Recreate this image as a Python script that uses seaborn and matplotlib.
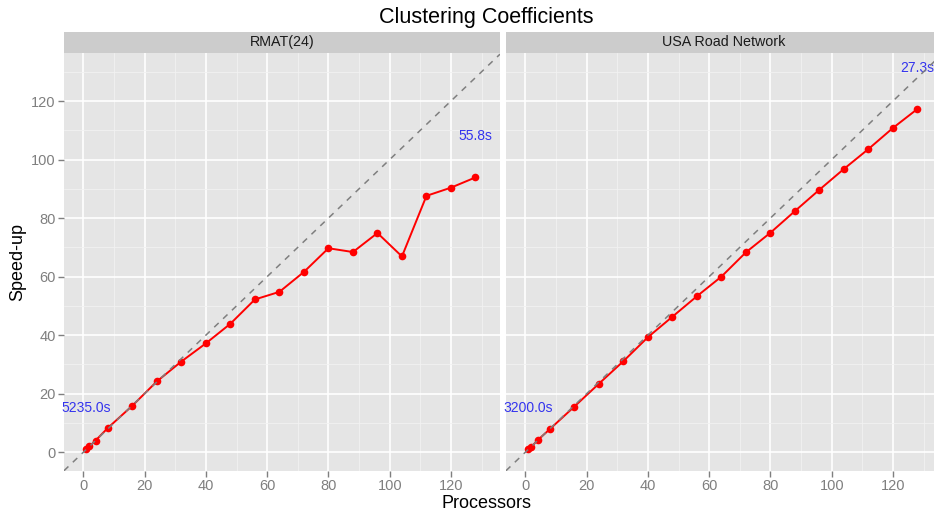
import matplotlib
matplotlib.use("Agg")
import matplotlib.pyplot as plt
import pandas as pd
import seaborn as sns
from matplotlib.ticker import MultipleLocator

# values
processors = [1, 2, 4, 8, 16, 24, 32, 40, 48, 56, 64, 72, 80, 88, 96, 104, 112, 120, 128]
rmat_speedup = [1.0, 2.0, 4.0, 8.3, 15.9, 24.2, 31.0, 37.2, 43.9, 52.2, 54.8, 61.6, 69.7,
                68.4, 74.9, 66.9, 87.6, 90.4, 93.9]
usa_speedup = [1.0, 1.9, 4.1, 7.9, 15.6, 23.4, 31.1, 39.3, 46.3, 53.3, 60.0, 68.3, 75.0,
               82.4, 89.7, 96.8, 103.6, 110.8, 117.3]
panel_names = ["RMAT(24)", "USA Road Network"]
rmat_times = ["5235.0s", "55.8s"]
usa_times = ["3200.0s", "27.3s"]

sns.set_theme(style="darkgrid", rc={
    "axes.facecolor": "#E5E5E5",
    "figure.facecolor": "white",
    "grid.color": "white",
})
plt.rcParams["font.family"] = ["Liberation Sans", "DejaVu Sans"]

df = pd.concat([
    pd.DataFrame({"panel": panel_names[0], "processors": processors, "speedup": rmat_speedup}),
    pd.DataFrame({"panel": panel_names[1], "processors": processors, "speedup": usa_speedup}),
])
times = {panel_names[0]: rmat_times, panel_names[1]: usa_times}

W, H = 934, 515
fig = plt.figure(figsize=(W / 100, H / 100), dpi=100)


def px_axes(left, top, width, height):
    return fig.add_axes([left / W, 1 - (top + height) / H, width / W, height / H])


grey50 = "#7F7F7F"
for i, (name, left) in enumerate(zip(panel_names, [64, 506])):
    strip = px_axes(left, 31.7, 436, 21)
    strip.set_facecolor("#CCCCCC")
    strip.set_xticks([])
    strip.set_yticks([])
    strip.grid(False)
    for s in strip.spines.values():
        s.set_visible(False)
    strip.text(0.5, 0.5, name, ha="center", va="center", fontsize=10.3, color="#1A1A1A",
               transform=strip.transAxes)

    ax = px_axes(left, 53, 436, 417.7)
    sub = df[df["panel"] == name]
    sns.lineplot(data=sub, x="processors", y="speedup", color="red", lw=1.4,
                 marker="o", markersize=5.5, markeredgewidth=0, ax=ax, zorder=3)
    ax.axline((0, 0), slope=1, color=grey50, ls=(0, (4, 4)), lw=1.1, zorder=4)

    t0, t1 = times[name]
    sp = sub["speedup"].tolist()
    ax.text(processors[0], sp[0] + 14, t0, color="#3333EE", fontsize=10,
            ha="center", va="center", clip_on=False)
    ax.text(processors[-1], sp[-1] + 14, t1, color="#3333EE", fontsize=10,
            ha="center", va="center", clip_on=False)

    ax.set_xlim(-6.3, 136)
    ax.set_ylim(-6.3, 136.4)
    ax.xaxis.set_major_locator(MultipleLocator(20))
    ax.xaxis.set_minor_locator(MultipleLocator(10))
    ax.yaxis.set_major_locator(MultipleLocator(20))
    ax.yaxis.set_minor_locator(MultipleLocator(10))
    ax.grid(which="major", color="white", lw=1.2)
    ax.grid(which="minor", color="#F2F2F2", lw=0.6)
    ax.set_axisbelow(True)
    for s in ax.spines.values():
        s.set_visible(False)
    ax.tick_params(which="major", length=4, width=1, color=grey50, labelcolor=grey50,
                   labelsize=10.5, pad=2, bottom=True, left=True)
    ax.tick_params(which="minor", length=0)
    ax.set_xlabel("")
    ax.set_ylabel("")
    if i == 1:
        ax.tick_params(axis="y", left=False, labelleft=False)

fig.text(486 / W, 1 - 18 / H, "Clustering Coefficients", ha="center", va="center",
         fontsize=15.5, color="black")
fig.text(486 / W, 1 - 504 / H, "Processors", ha="center", va="center", fontsize=13,
         color="black")
fig.text(18 / W, 1 - 262 / H, "Speed-up", ha="center", va="center", fontsize=13,
         rotation=90, color="black")

fig.savefig("out.png", dpi=100)
